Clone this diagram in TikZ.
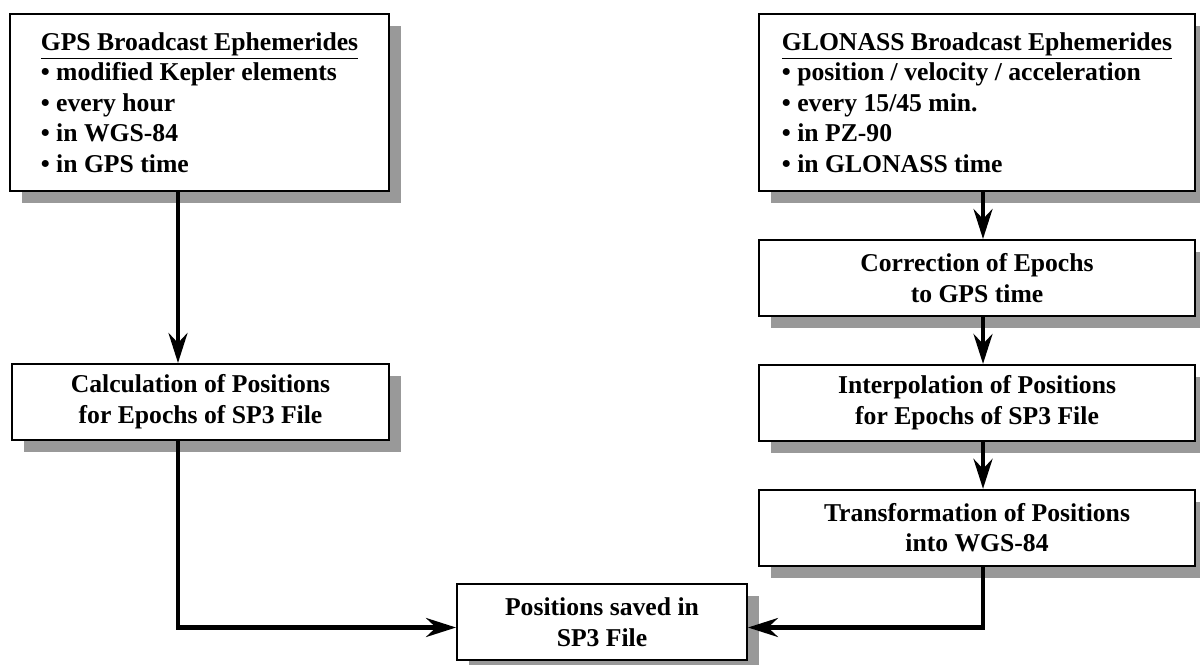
\documentclass[tikz,border=0pt]{standalone}
\usepackage{fontspec}
\setmainfont{Liberation Serif}
\usetikzlibrary{arrows.meta, positioning, shadows}

\begin{document}
\begin{tikzpicture}[
  node distance=0.94cm,
  box/.style={rectangle, draw=black, line width=1.1pt, fill=white,
              minimum height=1.52cm, align=center,
              font=\fontsize{14.6}{17.4}\selectfont\bfseries,
              drop shadow={shadow xshift=0.24cm, shadow yshift=-0.24cm,
                           fill=black!40, opacity=1}},
  listbox/.style={box, align=left, minimum height=3.54cm},
  arrow/.style={-{Stealth[length=0.6cm, width=0.38cm, inset=0.2cm]},
                line width=2.3pt},
]
\useasboundingbox (0,0) rectangle (24,-13.28);

\node[listbox, minimum width=7.58cm] (gps) at (3.99,-2.05)
  {\underline{GPS Broadcast Ephemerides}\\
   \textbullet{} modified Kepler elements\\
   \textbullet{} every hour\\
   \textbullet{} in WGS-84\\
   \textbullet{} in GPS time};

\node[listbox, minimum width=8.72cm] (glonass) at (19.54,-2.05)
  {\underline{GLONASS Broadcast Ephemerides}\\
   \textbullet{} position / velocity / acceleration\\
   \textbullet{} every 15/45 min.\\
   \textbullet{} in PZ-90\\
   \textbullet{} in GLONASS time};

\node[box, minimum width=8.72cm, below=of glonass] (corr)
  {Correction of Epochs\\to GPS time};
\node[box, minimum width=8.72cm, below=of corr] (interp)
  {Interpolation of Positions\\for Epochs of SP3 File};
\node[box, minimum width=8.72cm, below=of interp] (trans)
  {Transformation of Positions\\into WGS-84};

\node[box, minimum width=7.54cm, below=3.42cm of gps.south west,
      anchor=north west, xshift=0.04cm] (calc)
  {Calculation of Positions\\for Epochs of SP3 File};

\node[box, minimum width=5.8cm] (saved) at (12.04,-12.44)
  {Positions saved in\\SP3 File};

% column lines
\coordinate (lcol) at (3.56,0);
\coordinate (rcol) at (19.66,0);

\draw[arrow] (gps.south -| lcol) -- (calc.north -| lcol);
\draw[arrow] (glonass.south -| rcol) -- (corr.north -| rcol);
\draw[arrow] (corr.south -| rcol) -- (interp.north -| rcol);
\draw[arrow] (interp.south -| rcol) -- (trans.north -| rcol);
\draw[arrow] (calc.south -| lcol) |- ([yshift=-0.11cm]saved.west);
\draw[arrow] (trans.south -| rcol) |- ([yshift=-0.11cm]saved.east);

\end{tikzpicture}
\end{document}
